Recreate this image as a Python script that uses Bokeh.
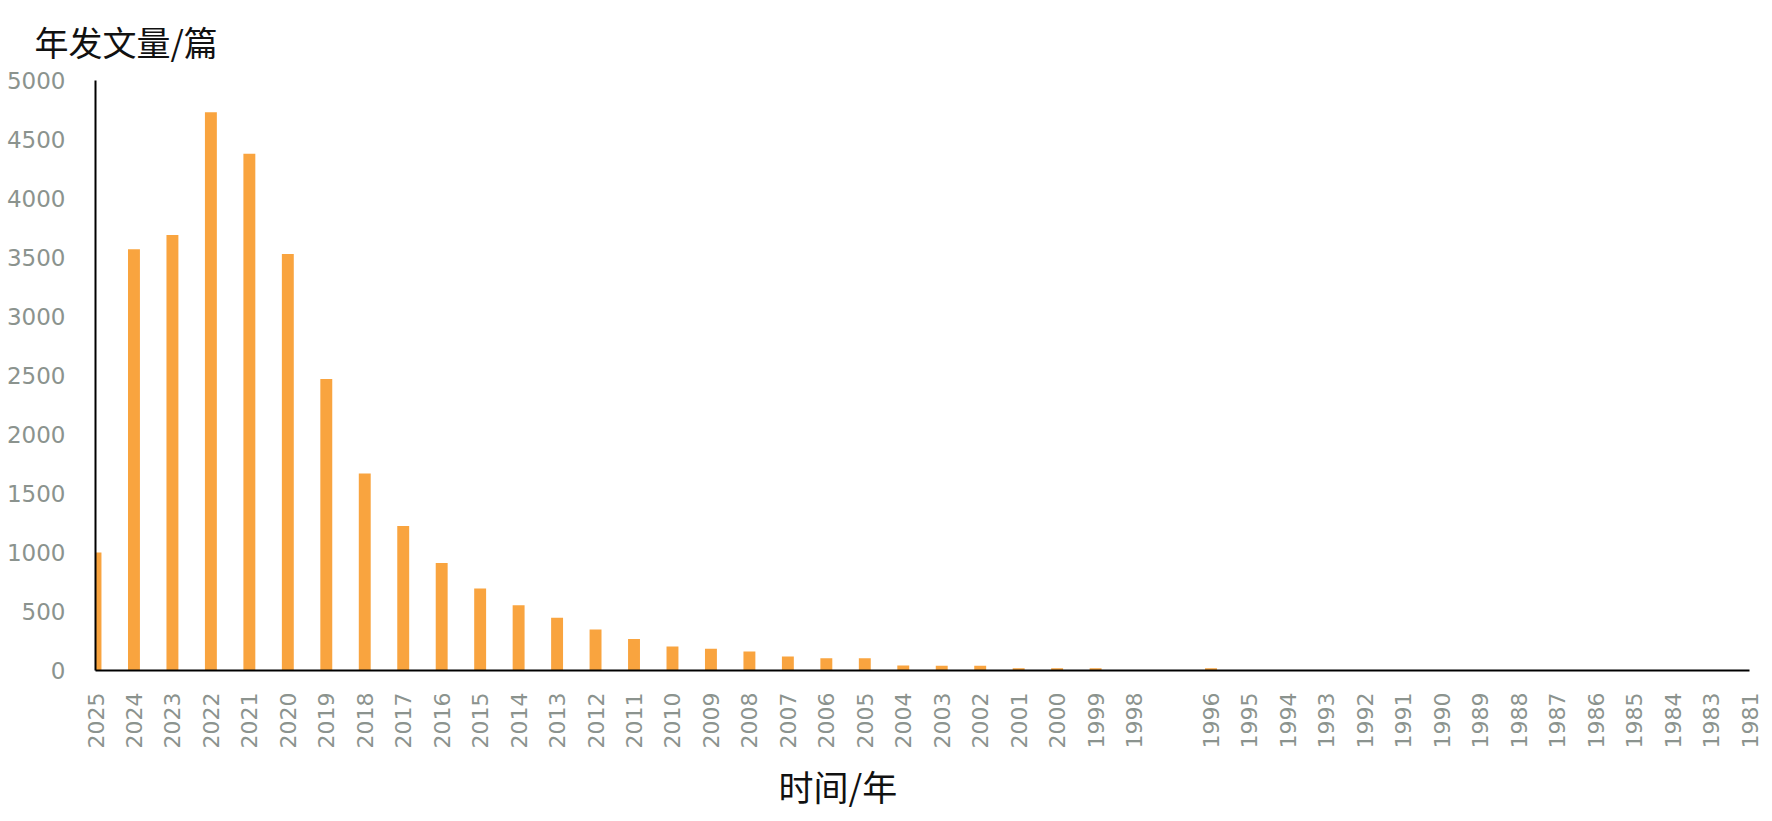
from bokeh.plotting import figure
from bokeh.models import Range1d, FixedTicker, ColumnDataSource, Title
from bokeh.embed import file_html
from bokeh.resources import INLINE

# categories (x tick labels); the slot after 1998 has no label in the original
tick_labels = ["2025", "2024", "2023", "2022", "2021", "2020", "2019", "2018", "2017", "2016",
               "2015", "2014", "2013", "2012", "2011", "2010", "2009", "2008", "2007", "2006",
               "2005", "2004", "2003", "2002", "2001", "2000", "1999", "1998", "", "1996",
               "1995", "1994", "1993", "1992", "1991", "1990", "1989", "1988", "1987", "1986",
               "1985", "1984", "1983", "1981"]

# annual publication counts
counts = [1000, 3570, 3690, 4730, 4380, 3530, 2470, 1670, 1225, 910,
          695, 552, 447, 348, 266, 204, 184, 161, 119, 104,
          104, 42, 40, 40, 20, 20, 20, 0, 0, 20,
          0, 0, 0, 0, 0, 0, 0, 0, 0, 0,
          0, 0, 0, 0]

y_ticks = [0, 500, 1000, 1500, 2000, 2500, 3000, 3500, 4000, 4500, 5000]

y_title = "年发文量/篇"
x_title = "时间/年"

idx = list(range(len(tick_labels)))
src = ColumnDataSource(dict(x=idx, top=counts, year=tick_labels))

p = figure(frame_width=1654, frame_height=590, output_backend="svg", toolbar_location=None,
           x_range=Range1d(0, len(tick_labels) - 1), y_range=Range1d(0, 5000),
           min_border_left=95, min_border_right=14, min_border_top=80, min_border_bottom=0,
           title=y_title)

p.vbar(x="x", top="top", width=0.31, source=src, fill_color="#F9A43F", line_color=None)

p.outline_line_color = None
p.grid.visible = False
p.background_fill_color = "white"

p.title.align = "left"
p.title.vertical_align = "top"
p.title.offset = -61
p.title.standoff = 26
p.title.text_font = "Noto Sans CJK SC"
p.title.text_font_size = "34px"
p.title.text_font_style = "normal"
p.title.text_color = "#111111"

p.add_layout(Title(text=x_title, align="left", offset=683, standoff=12,
                   text_font="Noto Sans CJK SC", text_font_size="35px",
                   text_font_style="normal", text_color="#111111"), "below")

tick_font = "DejaVu Sans"
tick_color = "#8B938E"

p.xaxis.ticker = FixedTicker(ticks=idx)
p.xaxis.major_label_overrides = {i: t for i, t in enumerate(tick_labels)}
p.xaxis.major_label_orientation = 3.14159265 / 2
p.xaxis.major_label_standoff = 22

p.yaxis.ticker = FixedTicker(ticks=y_ticks)
p.yaxis.major_label_standoff = 30

for ax in (p.xaxis[0], p.yaxis[0]):
    ax.axis_line_color = "black"
    ax.axis_line_width = 2
    ax.major_tick_line_color = None
    ax.minor_tick_line_color = None
    ax.major_tick_out = 0
    ax.major_tick_in = 0
    ax.major_label_text_font = tick_font
    ax.major_label_text_color = tick_color
p.xaxis.major_label_text_font_size = "22px"
p.yaxis.major_label_text_font_size = "23px"

open("out.html", "w").write(file_html(p, INLINE))
